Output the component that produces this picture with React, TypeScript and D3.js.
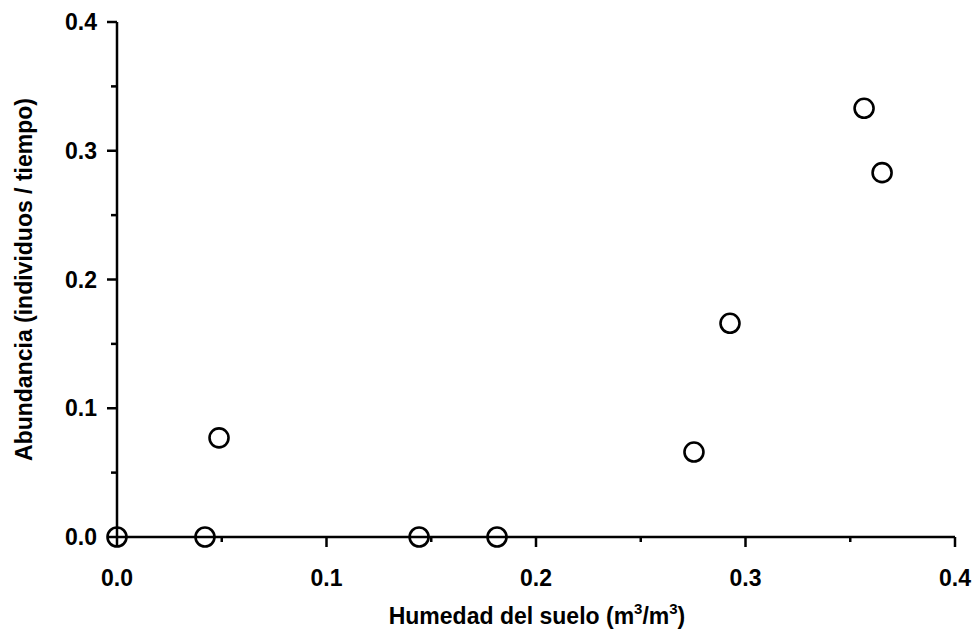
import React from "react";
import * as d3 from "d3";

// Soil moisture (m³/m³) vs. abundance (individuals / time)
const humedad = [0.0, 0.042, 0.0487, 0.1442, 0.1814, 0.2754, 0.2926, 0.3566, 0.3652];
const abundancia = [0.0, 0.0, 0.077, 0.0, 0.0, 0.066, 0.166, 0.333, 0.283];
const majorTicks = [0.0, 0.1, 0.2, 0.3, 0.4];
const minorTicks = [0.05, 0.15, 0.25, 0.35];

const W = 972;
const H = 631;
const FONT = "'Liberation Sans', Arial, Helvetica, sans-serif";

export default function App() {
  const x = d3.scaleLinear().domain([0, 0.4]).range([117, 955]);
  const y = d3.scaleLinear().domain([0, 0.4]).range([537, 22]);
  const fmt = d3.format(".1f");
  const points = humedad.map((h, i) => ({ h, a: abundancia[i] }));

  return (
    <svg
      width={W}
      height={H}
      style={{ position: "absolute", left: 0, top: 0, background: "#fff" }}
      fontFamily={FONT}
    >
      {/* y axis */}
      <line x1={x(0)} x2={x(0)} y1={y(0.4)} y2={y(0)} stroke="#000" strokeWidth={2.5} />
      {majorTicks.map((t) => (
        <g key={"ym" + t}>
          <line x1={x(0) - 10} x2={x(0)} y1={y(t)} y2={y(t)} stroke="#000" strokeWidth={2.5} />
          <text
            x={97}
            y={y(t) + 8}
            textAnchor="end"
            fontSize={23}
            fontWeight="bold"
          >
            {fmt(t)}
          </text>
        </g>
      ))}
      {minorTicks.map((t) => (
        <line key={"yn" + t} x1={x(0) - 6} x2={x(0)} y1={y(t)} y2={y(t)} stroke="#000" strokeWidth={2.5} />
      ))}

      {/* x axis */}
      <line x1={x(0)} x2={x(0.4)} y1={y(0)} y2={y(0)} stroke="#000" strokeWidth={2.5} />
      {majorTicks.map((t) => (
        <g key={"xm" + t}>
          <line x1={x(t)} x2={x(t)} y1={y(0)} y2={y(0) + 10} stroke="#000" strokeWidth={2.5} />
          <text
            x={x(t)}
            y={586}
            textAnchor="middle"
            fontSize={23}
            fontWeight="bold"
          >
            {fmt(t)}
          </text>
        </g>
      ))}
      {minorTicks.map((t) => (
        <line key={"xn" + t} x1={x(t)} x2={x(t)} y1={y(0)} y2={y(0) + 5} stroke="#000" strokeWidth={2.5} />
      ))}

      {/* axis titles */}
      <text x={537} y={624} textAnchor="middle" fontSize={23} fontWeight="bold">
        Humedad del suelo (m
        <tspan fontSize={15} dy={-10}>3</tspan>
        <tspan dy={10}>/m</tspan>
        <tspan fontSize={15} dy={-10}>3</tspan>
        <tspan dy={10}>)</tspan>
      </text>
      <text
        transform={`translate(32, ${y(0.2)}) rotate(-90)`}
        textAnchor="middle"
        fontSize={23}
        fontWeight="bold"
      >
        Abundancia (individuos / tiempo)
      </text>

      {/* data points */}
      {points.map((p, i) => (
        <circle
          key={i}
          cx={x(p.h)}
          cy={y(p.a)}
          r={9.5}
          fill="none"
          stroke="#000"
          strokeWidth={2.6}
        />
      ))}
    </svg>
  );
}
